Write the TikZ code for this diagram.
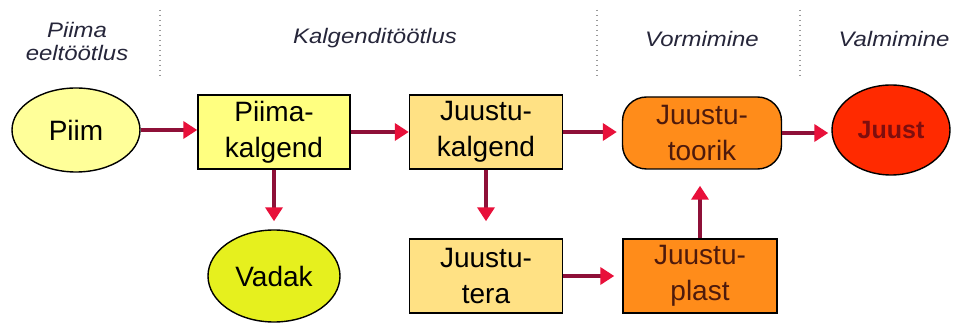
\documentclass[tikz,border=0pt]{standalone}
\usepackage{fontspec}
\setmainfont{Liberation Sans}
\usetikzlibrary{shapes.geometric,arrows.meta}
\definecolor{linecol}{HTML}{8E1038}
\definecolor{headcol}{HTML}{E8103A}
\definecolor{lblcol}{HTML}{26263A}
\definecolor{cPiim}{HTML}{FFFF99}
\definecolor{cPk}{HTML}{FFFF80}
\definecolor{cJk}{HTML}{FFE184}
\definecolor{cOr}{HTML}{FF8C1A}
\definecolor{cRed}{HTML}{FF2A00}
\definecolor{cVad}{HTML}{E6F01E}
\definecolor{dotcol}{HTML}{9A9A9A}
\definecolor{brtext}{HTML}{4E1A0C}
\definecolor{rdtext}{HTML}{7E0E0E}
\newcommand{\lbltext}[1]{\scalebox{1.14}[1]{#1}}
\begin{document}
\begin{tikzpicture}[x=1pt,y=-1pt,
  box/.style={draw=black,line width=1.4pt,minimum width=152pt,minimum height=74pt,inner sep=0pt,align=center,font=\fontsize{28}{36}\selectfont},
  oval/.style={ellipse,draw=black,line width=1.4pt,inner sep=0pt,align=center,font=\fontsize{28}{36}\selectfont},
  flow/.style={line width=4.5pt,draw=linecol,-{Triangle[length=14pt,width=17pt,color=headcol]}},
  lbl/.style={text=lblcol,font=\fontsize{21}{25}\selectfont\itshape,align=center},
  sep/.style={dotcol,line width=1.4pt,dash pattern=on 1.5pt off 3.5pt}
]
\useasboundingbox (0,0) rectangle (954,323);
% labels
\node[lbl] (l1) at (77,41) {\lbltext{Piima}\\[-2pt]\lbltext{eeltöötlus}};
\node[lbl] (l2) at (375,38) {\lbltext{Kalgenditöötlus}};
\node[lbl] (l3) at (702,39) {\lbltext{Vormimine}};
\node[lbl] (l4) at (894,39) {\lbltext{Valmimine}};
% separators
\coordinate (s1a) at (160,10); \coordinate (s1b) at (160,76);
\coordinate (s2a) at (597,10); \coordinate (s2b) at (597,78);
\coordinate (s3a) at (800,10); \coordinate (s3b) at (800,78);
\draw[sep] (s1a) -- (s1b);
\draw[sep] (s2a) -- (s2b);
\draw[sep] (s3a) -- (s3b);
% nodes
\node[oval,fill=cPiim,minimum width=128pt,minimum height=84pt] (piim) at (76,130) {Piim};
\node[box,fill=cPk] (pk) at (274,132) {Piima-\\kalgend};
\node[box,fill=cJk,minimum width=153pt] (jk) at (486,132) {Juustu-\\kalgend};
\node[box,fill=cOr,rounded corners=24pt,minimum width=159pt,minimum height=72pt,text=brtext] (jt) at (702,133) {Juustu-\\toorik};
\node[oval,fill=cRed,minimum width=118pt,minimum height=90pt,text=rdtext,font=\fontsize{25}{30}\selectfont\bfseries] (juust) at (891,130) {Juust};
\node[oval,fill=cVad,minimum width=132pt,minimum height=92pt] (vadak) at (274,276) {Vadak};
\node[box,fill=cJk,minimum width=153pt] (tera) at (486,276) {Juustu-\\tera};
\node[box,fill=cOr,minimum width=154pt,text=brtext] (plast) at (700,276) {Juustu-\\plast};
% arrows
\draw[flow] (piim.east) -- (pk.west |- piim.east);
\draw[flow] (pk.east) -- (jk.west);
\draw[flow,shorten >=5pt] (jk.east) -- (jt.west |- jk.east);
\draw[flow,shorten >=3pt] (jt.east) -- (juust.west |- jt.east);
\draw[flow,shorten >=8pt] (pk.south) -- (vadak.north);
\draw[flow,shorten >=17pt] (jk.south) -- (tera.north);
\draw[flow,shorten >=8pt] (tera.east) -- (plast.west);
\draw[flow,shorten >=16pt] (plast.north) -- (jt.south -| plast.north);
\end{tikzpicture}
\end{document}
